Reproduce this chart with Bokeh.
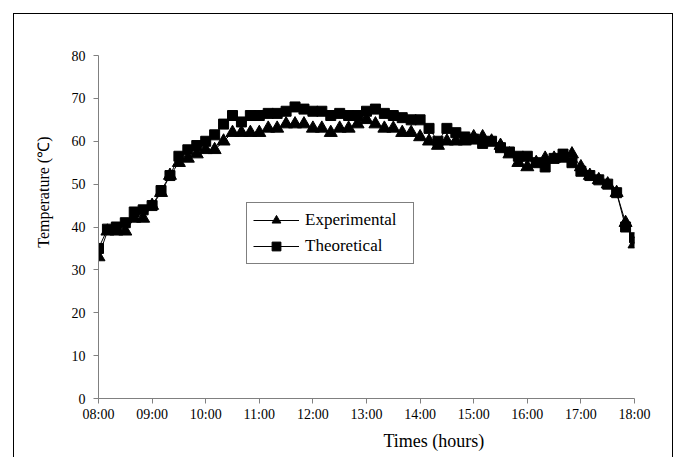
from bokeh.plotting import figure
from bokeh.models import ColumnDataSource, FixedTicker, Legend, LegendItem, Range1d, Title
from bokeh.embed import file_html
from bokeh.resources import INLINE

times = ["08:00", "08:10", "08:20", "08:30", "08:40", "08:50",
         "09:00", "09:10", "09:20", "09:30", "09:40", "09:50",
         "10:00", "10:10", "10:20", "10:30", "10:40", "10:50",
         "11:00", "11:10", "11:20", "11:30", "11:40", "11:50",
         "12:00", "12:10", "12:20", "12:30", "12:40", "12:50",
         "13:00", "13:10", "13:20", "13:30", "13:40", "13:50",
         "14:00", "14:10", "14:20", "14:30", "14:40", "14:50",
         "15:00", "15:10", "15:20", "15:30", "15:40", "15:50",
         "16:00", "16:10", "16:20", "16:30", "16:40", "16:50",
         "17:00", "17:10", "17:20", "17:30", "17:40", "17:50",
         "18:00"]

experimental = [33, 39, 39, 39, 42, 42,
                45, 48, 52, 55, 56, 57,
                58, 58, 60, 62, 62, 62,
                62, 63, 63, 64, 64, 64,
                63, 63, 62, 63, 63, 64,
                65, 64, 63, 63, 62, 62,
                61, 60, 59, 60, 60, 60,
                61, 61, 60, 59, 57, 55,
                54, 55, 56, 56, 56, 57,
                54, 52, 51, 50, 48, 41,
                36]

theoretical = [35, 39.5, 40, 41, 43.5, 44,
               45, 48.5, 52, 56.5, 58, 59,
               60, 61.5, 64, 66, 64.5, 66,
               66, 66.5, 66.5, 67, 68, 67.5,
               67, 67, 66, 66.5, 66, 66,
               67, 67.5, 66.5, 66, 65.5, 65,
               65, 63, 60, 63, 62, 61,
               60.5, 59.5, 60, 58.5, 57.5, 56.5,
               56.5, 55, 54, 56, 57, 55,
               53, 52, 51, 50, 48, 40,
               37.5]

x_tick_labels = ["08:00", "09:00", "10:00", "11:00", "12:00", "13:00",
                 "14:00", "15:00", "16:00", "17:00", "18:00"]
y_ticks = [0, 10, 20, 30, 40, 50, 60, 70, 80]


def to_hours(t):
    h, m = t.split(":")
    return int(h) + int(m) / 60.0


hours = [to_hours(t) for t in times]
x_ticks = [to_hours(t) for t in x_tick_labels]

src = ColumnDataSource(dict(x=hours, exp=experimental, theo=theoretical))

FONT = "Liberation Serif"

p = figure(width=660, height=450, output_backend="svg", toolbar_location=None,
           x_range=Range1d(8, 18), y_range=Range1d(0, 80),
           min_border_left=84, min_border_right=40, min_border_top=41, min_border_bottom=66)
p.margin = (13, 11, 0, 13)
p.styles = {"border": "1px solid black", "box-sizing": "border-box"}
p.outline_line_color = None
p.grid.visible = False
p.background_fill_color = "white"
p.border_fill_color = "white"

for ax in (p.xaxis[0], p.yaxis[0]):
    ax.axis_line_color = "#808080"
    ax.major_tick_line_color = "#808080"
    ax.minor_tick_line_color = None
    ax.major_tick_in = 0
    ax.major_tick_out = 5
    ax.major_label_text_font = FONT
    ax.major_label_text_font_size = "14px"
    ax.major_label_text_color = "black"

p.xaxis.ticker = FixedTicker(ticks=x_ticks)
p.xaxis.major_label_overrides = {x: lab for x, lab in zip(x_ticks, x_tick_labels)}
p.xaxis.major_label_standoff = 3
p.yaxis.ticker = FixedTicker(ticks=y_ticks)
p.yaxis.major_label_standoff = 8

l1 = p.line("x", "exp", source=src, line_color="black", line_width=1)
s1 = p.scatter("x", "exp", source=src, marker="triangle", size=13,
               fill_color="black", line_color="black")
l2 = p.line("x", "theo", source=src, line_color="black", line_width=1)
s2 = p.scatter("x", "theo", source=src, marker="square", size=10,
               fill_color="black", line_color="black")

legend = Legend(items=[LegendItem(label="Experimental", renderers=[l1, s1]),
                       LegendItem(label="Theoretical", renderers=[l2, s2])],
                location=(148, 134))
legend.label_text_font = FONT
legend.label_text_font_size = "17px"
legend.label_text_color = "black"
legend.label_width = 102
legend.border_line_color = "black"
legend.border_line_width = 1
legend.background_fill_alpha = 1
legend.glyph_width = 46
legend.glyph_height = 22
legend.label_standoff = 6
legend.padding = 6
legend.spacing = 4
legend.margin = 0
p.add_layout(legend, "center")

xt = Title(text="Times (hours)", align="left", offset=285, standoff=8,
           text_font=FONT, text_font_size="18px", text_font_style="normal",
           text_color="black")
p.add_layout(xt, "below")
yt = Title(text="Temperature (\u2103)", align="right", offset=81, standoff=33,
           text_font=FONT, text_font_size="16px", text_font_style="normal",
           text_color="black")
p.add_layout(yt, "left")

open("out.html", "w").write(file_html(p, INLINE))
